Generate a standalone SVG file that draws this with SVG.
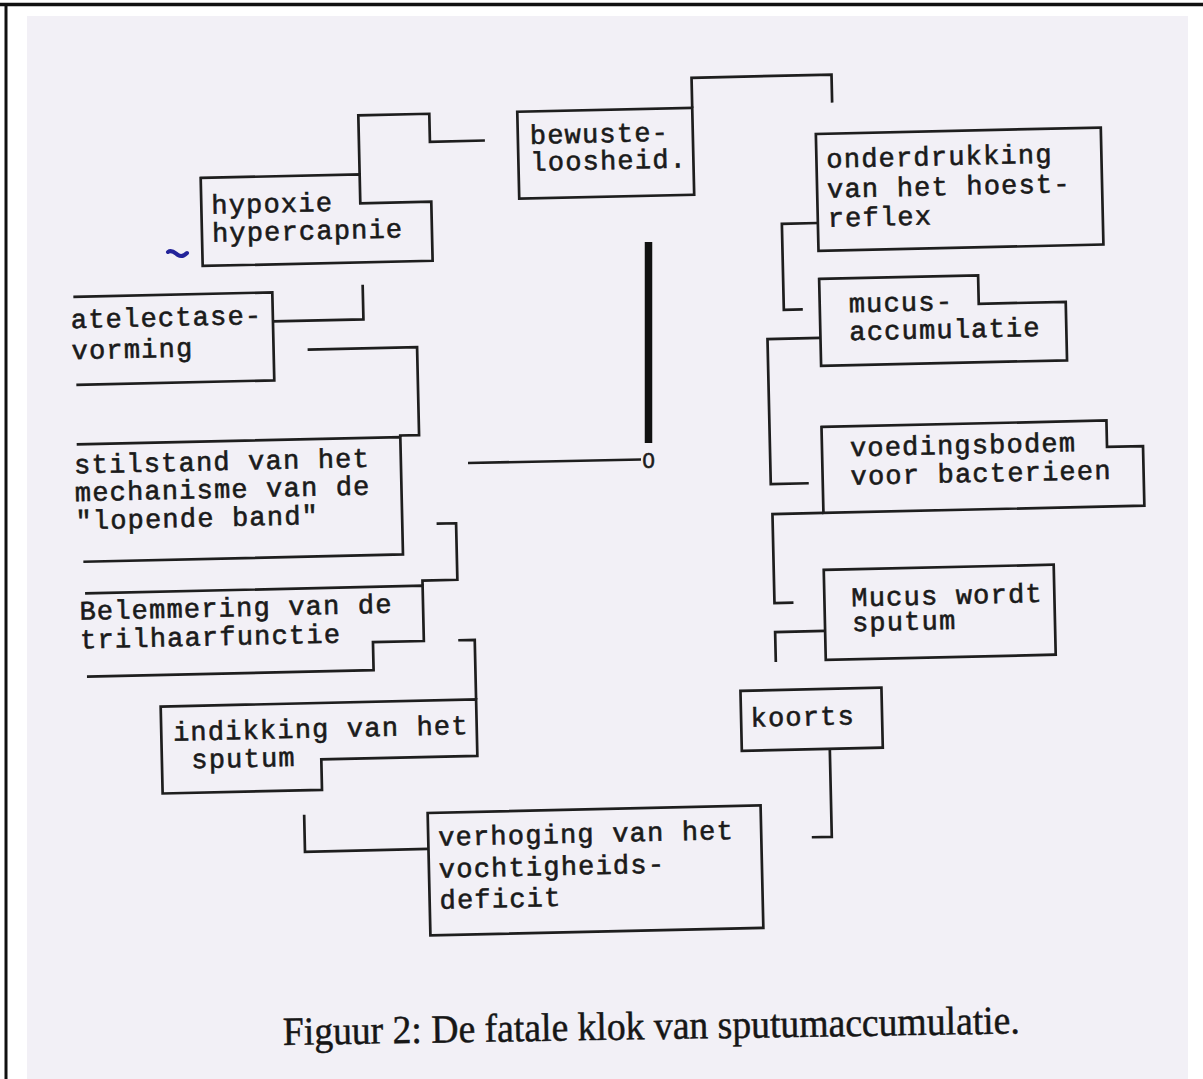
<svg xmlns="http://www.w3.org/2000/svg" width="1203" height="1079" viewBox="0 0 1203 1079">
<style>
.box{fill:none;stroke:#1e1e1e;stroke-width:2.7;stroke-linejoin:miter}
.con{fill:none;stroke:#1e1e1e;stroke-width:2.7;stroke-linejoin:miter}
.t{font-family:"Liberation Mono","DejaVu Sans Mono",monospace;font-size:27px;letter-spacing:1.2px;fill:#1a1a1a;stroke:#1a1a1a;stroke-width:0.6}
.cap{font-family:"Liberation Serif","Times New Roman",serif;font-size:40px;fill:#161616;stroke:#161616;stroke-width:0.5}
</style>
<rect width="1203" height="1079" fill="#ffffff"/>
<rect x="27" y="16" width="1161" height="1063" fill="#f2f0f6"/>
<line x1="0" y1="4.5" x2="1203" y2="4.5" stroke="#111" stroke-width="3.5"/>
<line x1="6" y1="3" x2="6" y2="1079" stroke="#111" stroke-width="3"/>
<g id="diagram" transform="rotate(-1.3 600 540)">
<g id="connectors">
<path class="con" d="M494,138 H439 V110 H368 V169"/>
<path class="con" d="M702,110 V80 H842 V108"/>
<path class="con" d="M825,228 H789 V314 H808"/>
<path class="con" d="M825,343 H772 V488 H810"/>
<path class="con" d="M824,518 H773 V607 H792"/>
<path class="con" d="M823,636 H773 V666"/>
<path class="con" d="M825,754 V842 H805"/>
<path class="con" d="M421.5,845 H298 V808"/>
<path class="con" d="M472.5,696.6 V637 H456"/>
<path class="con" d="M437,520 H456.5 V576.5 H421.6 V581.7"/>
<path class="con" d="M312,343 H421.5 V431 H402.7 V432.6"/>
<path class="con" d="M278,314 H368.5 V279.5"/>
</g>
<g id="n-bewusteloosheid">
<rect class="box" x="527" y="110" width="175" height="87"/>
<text class="t" x="539" y="142.5">bewuste-</text>
<text class="t" x="539" y="169.5">loosheid.</text>
</g>
<g id="n-hypoxie">
<path class="box" d="M209,169 H368 V198 H439 V257 H209 Z"/>
<text class="t" x="219" y="205">hypoxie</text>
<text class="t" x="219" y="233">hypercapnie</text>
</g>
<g id="n-onderdrukking">
<rect class="box" x="825" y="139" width="285" height="117"/>
<text class="t" x="835" y="173">onderdrukking</text>
<text class="t" x="835" y="203">van het hoest-</text>
<text class="t" x="835" y="232">reflex</text>
</g>
<g id="n-mucus">
<path class="box" d="M825,284 H984 V312.5 H1071 V371 H825 Z"/>
<text class="t" x="854" y="318">mucus-</text>
<text class="t" x="854" y="346">accumulatie</text>
</g>
<g id="n-voedingsbodem">
<path class="box" d="M824,432 H1109 V458.5 H1145 V518 H824 Z"/>
<text class="t" x="852" y="462">voedingsbodem</text>
<text class="t" x="852" y="490.5">voor bacterieen</text>
</g>
<g id="n-mucuswordt">
<rect class="box" x="823" y="575" width="230" height="90"/>
<text class="t" x="850" y="612">Mucus wordt</text>
<text class="t" x="850" y="637">sputum</text>
</g>
<g id="n-koorts">
<rect class="box" x="737" y="694" width="141" height="60"/>
<text class="t" x="746.5" y="730">koorts</text>
</g>
<g id="n-verhoging">
<rect class="box" x="421.5" y="809" width="333" height="122.5"/>
<text class="t" x="431.5" y="842">verhoging van het</text>
<text class="t" x="431.5" y="874">vochtigheids-</text>
<text class="t" x="431.5" y="905">deficit</text>
</g>
<g id="n-indikking">
<path class="box" d="M157,696.6 H472.5 V753 H316.4 V783.5 H157 Z"/>
<text class="t" x="168.7" y="731">indikking van het</text>
<text class="t" x="186.5" y="759">sputum</text>
</g>
<g id="n-belemmering">
<path class="box" d="M84,581.7 H421.6 V637 H370.7 V665 H84"/>
<text class="t" x="78" y="608">Belemmering van de</text>
<text class="t" x="78" y="636.6">trilhaarfunctie</text>
</g>
<g id="n-stilstand">
<path class="box" d="M79,432.6 H402.7 V550 H83"/>
<text class="t" x="76" y="461.6">stilstand van het</text>
<text class="t" x="76" y="489.3">mechanisme van de</text>
<text class="t" x="76" y="517.6">"lopende band"</text>
</g>
<g id="n-atelectase">
<path class="box" d="M79,285 H278 V373 H80"/>
<text class="t" x="76" y="316.3">atelectase-</text>
<text class="t" x="76" y="347.3">vorming</text>
</g>
</g>
<g id="clock-hand">
<line x1="648.5" y1="242" x2="648.5" y2="443" stroke="#111" stroke-width="7.5"/>
<line x1="468" y1="463" x2="641" y2="459.5" stroke="#1e1e1e" stroke-width="2.6"/>
<text x="648.5" y="467.5" text-anchor="middle" font-family="'Liberation Sans', Arial, sans-serif" font-size="22" fill="#1a1a1a" stroke="#1a1a1a" stroke-width="0.6">0</text>
</g>
<path d="M168,252 c4,-3 7,1 10,3 c3,2 6,1 9,-2" fill="none" stroke="#23239a" stroke-width="4" stroke-linecap="round"/>
<text class="cap" x="283" y="1045" textLength="737" lengthAdjust="spacingAndGlyphs" transform="rotate(-0.9 283 1045)">Figuur 2: De fatale klok van sputumaccumulatie.</text>
</svg>
